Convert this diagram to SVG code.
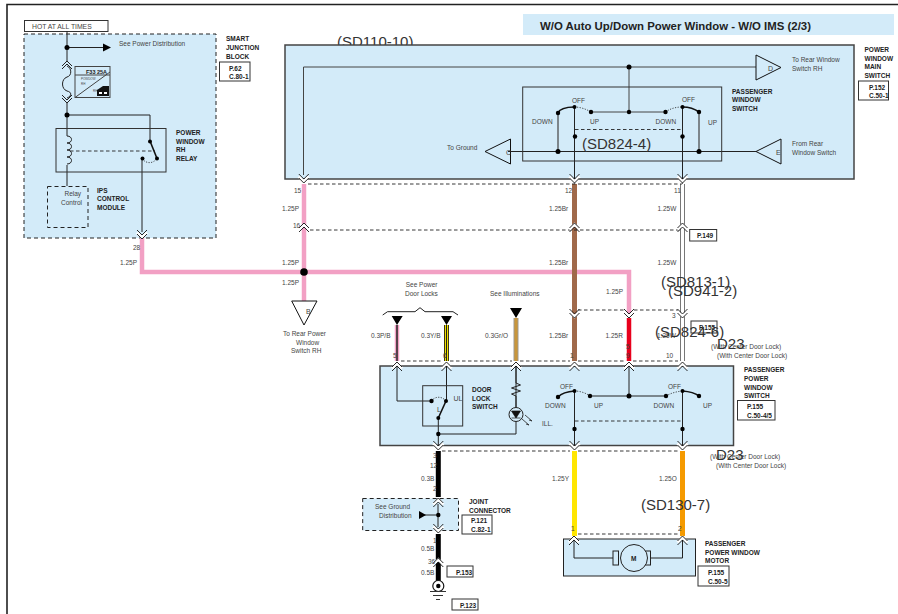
<svg xmlns="http://www.w3.org/2000/svg" width="898" height="614" viewBox="0 0 898 614">
<style>
text{font-family:"Liberation Sans",Arial,sans-serif;font-size:6.5px;fill:#444}
.b{font-weight:bold;fill:#222}
.big{font-size:15px;fill:#333}
.panel{fill:#d3ebf9;stroke:#444;stroke-width:1.5}
.dash{fill:#d3ebf9;stroke:#222;stroke-width:1;stroke-dasharray:4 3}
.box{fill:none;stroke:#333;stroke-width:1}
.ref{fill:#fff;stroke:#333;stroke-width:1}
.ln{fill:none;stroke:#222;stroke-width:1}
.thick{fill:none;stroke:#111;stroke-width:1.6}
.dl{fill:none;stroke:#222;stroke-width:.9;stroke-dasharray:3.5 2.5}
.dt{fill:none;stroke:#222;stroke-width:.8;stroke-dasharray:1.2 1.4}
.tri{fill:#d3ebf9;stroke:#111;stroke-width:1}
.n{fill:#000}
</style>
<defs>
<g id="dn"><path d="M-5,-3.5 L0,1.5 L5,-3.5" fill="none" stroke="#fff" stroke-width="3"/><path d="M-5,-6 L0,-1 L5,-6 M-5,-2 L0,3 L5,-2" fill="none" stroke="#111" stroke-width=".9"/></g>
<g id="up"><path d="M-5,3.5 L0,-1.5 L5,3.5" fill="none" stroke="#fff" stroke-width="3"/><path d="M-5,6 L0,1 L5,6 M-5,2 L0,-3 L5,2" fill="none" stroke="#111" stroke-width=".9"/></g>
</defs>
<rect width="898" height="614" fill="#fff"/>
<path d="M7,614 V4.500 H898" fill="none" stroke="#222" stroke-width="1.600"/>
<g id="title"><rect x="523" y="14" width="371" height="21" fill="#d3ebf9"/><text x="540" y="30" class="b" style="font-size:11.400px">W/O Auto Up/Down Power Window - W/O IMS (2/3)</text></g>

<text x="337" y="47" class="big">(SD110-10)</text>

<g id="smart-junction-block">
<rect x="24" y="34" width="192" height="204" class="dash"/>
<rect x="24.500" y="20.500" width="83.500" height="11" class="ref"/>
<text x="32" y="29" style="font-size:6.800px">HOT AT ALL TIMES</text>
<text x="119" y="46">See Power Distribution</text>
<path d="M67,31 V62 M67,47.500 H105 M67,103 V136 M67,165 V186 M67,115 H150 V141 M142,158.500 V232" class="ln"/>
<path d="M103,43.500 L111,47.500 L103,51.500 Z" class="n"/>
<circle cx="67" cy="47.500" r="2.500" class="n"/>
<path d="M62,66 L67,61 L72,66 M62,69 L67,64 L72,69 M62,95 L67,100 L72,95 M62,98 L67,103 L72,98" class="ln"/>
<path d="M67,66 c5,2 5,10 0,11 c-6,2 -6,12 0,14 c5,1 5,5 0,7" class="ln"/>
<g id="fuse"><rect x="75" y="66.500" width="35" height="31" fill="#d3ebf9" stroke="#444"/><path d="M75,75 H110 M75,97.500 L110,72" stroke="#444" fill="none"/>
<text x="86" y="74" class="b" style="font-size:5.500px">F33 25A</text><text x="81" y="80" style="font-size:3px">POWDOW</text><text x="81" y="85" style="font-size:3px">RH</text><text x="93" y="92" style="font-size:3px">RH</text><path d="M97,96 V90 L103,86 H109 V96 Z" fill="#111"/><rect x="99" y="92" width="3" height="2" fill="#fff"/><rect x="104" y="92" width="3" height="2" fill="#fff"/></g>
<circle cx="67" cy="115" r="2.500" class="n"/>
<g id="power-window-rh-relay"><rect x="56" y="128.500" width="110" height="43.500" class="box"/>
<path d="M67,136 c6,0 6,7 0,7 c6,0 6,7 0,7 c6,0 6,7 0,7 c6,0 6,7 0,7" class="ln"/>
<path d="M70,151 H155" class="dl"/>
<path d="M150,141 L157,158.500" class="thick"/><path d="M142,158.500 C146,164 153,164 157,158.500" class="dt"/>
<circle cx="150" cy="141.500" r="2" class="n"/><circle cx="157" cy="158.500" r="2" class="n"/><circle cx="142.500" cy="158.500" r="2" class="n"/></g>
<g id="ips-control-module"><rect x="47.500" y="186.500" width="40.500" height="41" fill="#d3ebf9" stroke="#222" stroke-dasharray="4 3"/><text x="64.500" y="196">Relay</text><text x="61" y="205">Control</text></g>
<text x="176" y="135" class="b">POWER</text><text x="176" y="144" class="b">WINDOW</text><text x="176" y="152" class="b">RH</text><text x="176" y="161" class="b">RELAY</text>
<text x="97" y="193" class="b">IPS</text><text x="97" y="201" class="b">CONTROL</text><text x="97" y="210" class="b">MODULE</text>
<text x="226" y="41" class="b">SMART</text><text x="226" y="50" class="b">JUNCTION</text><text x="226" y="59" class="b">BLOCK</text>
<rect x="219.500" y="62" width="30.500" height="19" class="ref"/><text x="229" y="71" class="b">P.62</text><text x="229" y="79" class="b">C.80-1</text>
</g>

<g id="power-window-main-switch">
<rect x="285" y="45" width="569" height="134" class="panel"/>
<path d="M303.500,175 V67 H756 M629,67 V112 M591,112 H665.500" fill="none" stroke="#444" stroke-width="1"/>
<circle cx="629" cy="67" r="2.500" class="n"/><circle cx="629" cy="112" r="2.200" class="n"/>
<path d="M756,55 L781,67.500 L756,80 Z" class="tri"/><text x="768" y="71" style="font-size:7px">D</text>
<path d="M510.500,139 L485,151.500 L510.500,164 Z" class="tri"/><text x="506" y="155" style="font-size:7px">C</text>
<path d="M781,139 L756,151.500 L781,164 Z" class="tri"/><text x="776" y="155" style="font-size:7px">E</text>
<path d="M508,151.500 H756" class="ln"/>
<g id="passenger-window-switch"><rect x="522.700" y="87" width="199" height="74" class="box"/>
<path d="M558,113 V151.500 M699,112 V151.500" stroke="#444" fill="none" stroke-width="1.200"/>
<path d="M574.500,107 V175 M682.500,107 V175" class="ln"/>
<path d="M558,113 C560,108 568,107 574.500,107 M682.500,107 C689,107 695,109 699,112" class="thick"/>
<path d="M574.500,107 C580,107 586,109 591,112 M665.500,112 C671,108 677,107 682.500,107" class="dt"/>
<path d="M575,129.500 H682" class="dl"/>
<circle cx="574.500" cy="107" r="2" class="n"/><circle cx="682.500" cy="107" r="2" class="n"/><circle cx="558" cy="113" r="2.200" class="n"/><circle cx="591" cy="112" r="2.200" class="n"/><circle cx="665.500" cy="112" r="2.200" class="n"/><circle cx="699" cy="112" r="2.200" class="n"/>
<circle cx="575" cy="136.500" r="2.200" class="n"/><circle cx="682.500" cy="136.500" r="2.200" class="n"/><circle cx="558" cy="151.500" r="2.500" class="n"/><circle cx="699" cy="151.500" r="2.500" class="n"/>
<text x="572" y="103">OFF</text><text x="682" y="102">OFF</text><text x="532" y="124">DOWN</text><text x="590" y="124">UP</text><text x="655.500" y="124">DOWN</text><text x="708" y="125">UP</text></g>
<text x="792" y="62">To Rear Window</text><text x="792" y="71">Switch RH</text><text x="792" y="146">From Rear</text><text x="792" y="155">Window Switch</text><text x="447" y="150">To Ground</text>
<text x="732" y="94" class="b">PASSENGER</text><text x="732" y="102" class="b">WINDOW</text><text x="732" y="111" class="b">SWITCH</text>
<text x="864.500" y="52" class="b">POWER</text><text x="864.500" y="61" class="b">WINDOW</text><text x="864.500" y="69" class="b">MAIN</text><text x="864.500" y="78" class="b">SWITCH</text>
<rect x="858.500" y="81" width="30" height="19" class="ref"/><text x="869" y="90" class="b">P.152</text><text x="869" y="98" class="b">C.50-1</text>
</g>

<g id="passenger-power-window-switch">
<rect x="380" y="366" width="353.500" height="79.500" class="panel"/>
<path d="M397,366 V401 H431.500 M446.500,366 V401 M438.300,418 V445 M438.300,434 H516 V366" class="ln"/>
<path d="M574.500,391 V445 M682.500,391 V445 M629,366 V396 M590,396 H666" class="ln"/>
<g id="door-lock-switch"><rect x="422.700" y="385.700" width="40" height="40.300" class="box"/>
<path d="M446,401 L438.300,418" class="thick"/><path d="M431.500,401 C435,396 442,396 446,401" class="dt"/>
<circle cx="431.500" cy="401" r="2.200" class="n"/><circle cx="446" cy="401" r="2" class="n"/><circle cx="438.300" cy="418" r="2" class="n"/><circle cx="438.300" cy="434" r="2.200" class="n"/>
<text x="437" y="412" style="font-size:7px">L</text><text x="453.500" y="400.500" style="font-size:7px">UL</text></g>
<path d="M516,366 V383 L520.500,385 L511.500,388 L520.500,391 L511.500,394 L516,396 V407" class="ln"/>
<circle cx="516" cy="414.500" r="7" fill="#d3ebf9" stroke="#222"/>
<path d="M511.500,411 H520.500 L516,418 Z M511.500,418 H520.500" fill="#111" stroke="#111" stroke-width=".7"/>
<path d="M525,415 L532,421 M522,419 L529,425 M532,421 L529,420 M529,425 L526,424" fill="none" stroke="#222" stroke-width=".8"/>
<text x="542" y="425.500">ILL.</text>
<text x="472" y="392" class="b">DOOR</text><text x="472" y="401" class="b">LOCK</text><text x="472" y="409" class="b">SWITCH</text>
<path d="M558,397 C562,393 568,391.500 574.500,391 M682.500,391 C689,391.500 695,393 699,396" class="thick"/>
<path d="M574.500,391 C580,391 586,393 590,396 M666,396 C671,393 677,391.500 682.500,391" class="dt"/>
<path d="M575,421 H682" class="dl"/>
<circle cx="574.500" cy="391" r="2" class="n"/><circle cx="682.500" cy="391" r="2" class="n"/><circle cx="558" cy="397" r="2.200" class="n"/><circle cx="590" cy="396" r="2.200" class="n"/><circle cx="666" cy="396" r="2.200" class="n"/><circle cx="699" cy="396" r="2.200" class="n"/><circle cx="629" cy="396" r="2.500" class="n"/><circle cx="574.500" cy="429" r="2.200" class="n"/><circle cx="682.500" cy="429" r="2.200" class="n"/>
<text x="560" y="388.500">OFF</text><text x="668" y="388.500">OFF</text><text x="545" y="408">DOWN</text><text x="594" y="408">UP</text><text x="653.500" y="408">DOWN</text><text x="703" y="408">UP</text>
<text x="744" y="372" class="b">PASSENGER</text><text x="744" y="381" class="b">POWER</text><text x="744" y="390" class="b">WINDOW</text><text x="744" y="398" class="b">SWITCH</text>
<rect x="737.500" y="400.500" width="37.500" height="19.500" class="ref"/><text x="747" y="409" class="b">P.155</text><text x="747" y="418" class="b">C.50-4/5</text>
</g>

<g id="joint-connector">
<rect x="362.700" y="498.500" width="95.800" height="32" class="dash"/>
<path d="M424,515 H438 M438,504 V527" class="ln"/>
<path d="M419,511 L426,515 L419,519 Z" class="n"/><circle cx="438.300" cy="515" r="2.200" class="n"/>
<text x="375" y="509">See Ground</text><text x="379" y="518">Distribution</text>
<text x="469" y="504" class="b">JOINT</text><text x="469" y="513" class="b">CONNECTOR</text>
<rect x="462" y="515" width="30" height="19" class="ref"/><text x="471" y="523" class="b">P.121</text><text x="471" y="532" class="b">C.82-1</text>
</g>

<g id="power-window-motor">
<rect x="563.500" y="539" width="132" height="37" fill="#d3ebf9" stroke="#222"/>
<path d="M574,540 V558 H613 M650,558 H682.500 V540" class="ln"/>
<rect x="613" y="551" width="5.500" height="14" fill="#d3ebf9" stroke="#222"/><rect x="645" y="551" width="5.500" height="14" fill="#d3ebf9" stroke="#222"/>
<circle cx="634" cy="558" r="13.500" fill="#d3ebf9" stroke="#222"/>
<text x="631" y="561" class="b">M</text>
<text x="705" y="546" class="b">PASSENGER</text><text x="705" y="555" class="b">POWER WINDOW</text><text x="705" y="563" class="b">MOTOR</text>
<rect x="698" y="566" width="31" height="20" class="ref"/><text x="708" y="575" class="b">P.155</text><text x="708" y="584" class="b">C.50-5</text>
</g>

<g id="connectors">
<g fill="none">
<path d="M304,184 V301" stroke="#f2a0c4" stroke-width="4.500"/>
<path d="M142,238 V272 H629 V314" stroke="#f2a0c4" stroke-width="4.500"/>
<path d="M574.500,184 V361" stroke="#a0694a" stroke-width="5"/>
<path d="M682.500,184 V361" stroke="#555" stroke-width="5"/><path d="M682.500,184 V361" stroke="#fff" stroke-width="3.400"/>
<path d="M629,318 V361" stroke="#e8001c" stroke-width="4.500"/>
<path d="M397,325 V361" stroke="#f2a0c4" stroke-width="4.500"/><path d="M397,325 V361" stroke="#222" stroke-width="1.500"/>
<path d="M446.500,325 V361" stroke="#111" stroke-width="5"/><path d="M446.500,325 V361" stroke="#f0e000" stroke-width="3.400"/><path d="M446.500,325 V361" stroke="#222" stroke-width="1"/>
<path d="M516,318 V361" stroke="#999" stroke-width="5"/><path d="M516,318 V361" stroke="#c8963c" stroke-width="3.200"/>
<path d="M574.500,451 V536" stroke="#ffe600" stroke-width="5"/>
<path d="M682.500,451 V536" stroke="#f59a00" stroke-width="5"/>
<path d="M438.300,451 V497 M438.300,534 V581" stroke="#000" stroke-width="5"/>
</g>
<path d="M574.500,174 V184 M682.500,174 V184" class="ln"/>
<path d="M308,184 H682 M310,230 H682 M634,310 H678 M578,310 H624 M401,361 H443 M450,361 H512 M520,361 H570 M578,361 H625 M633,361 H678 M442,451 H570 M578,451 H678 M578,534 H678" class="dl"/>
<use href="#dn" x="303.800" y="180"/><use href="#dn" x="574.500" y="180"/><use href="#dn" x="682.500" y="180"/>
<use href="#up" x="304" y="226"/><use href="#up" x="574.500" y="226"/><use href="#up" x="682.500" y="226"/>
<use href="#dn" x="574.500" y="315"/><use href="#dn" x="629" y="315"/><use href="#dn" x="682.500" y="315"/>
<use href="#up" x="397" y="365"/><use href="#up" x="446.500" y="365"/><use href="#up" x="516" y="365"/><use href="#up" x="574.500" y="365"/><use href="#up" x="629" y="365"/><use href="#up" x="682.500" y="365"/>
<use href="#dn" x="438.300" y="447"/><use href="#dn" x="574.500" y="447"/><use href="#dn" x="682.500" y="447"/>
<use href="#dn" x="142" y="236"/>
<use href="#up" x="438.300" y="501"/><use href="#dn" x="438.300" y="530"/><use href="#up" x="438.300" y="561"/>
<use href="#up" x="574" y="539"/><use href="#up" x="682.500" y="539"/>
<circle cx="304" cy="272" r="3.800" class="n"/>
</g>

<g id="wire-ends">
<path d="M291.700,301 H317 L304,325 Z" fill="#fff" stroke="#111"/><text x="306" y="314" style="font-size:7px">B</text>
<path d="M382.700,315 L387.500,311.700 H415 L420,307.700 L425,311.700 H453 L458,315" class="ln"/>
<path d="M391.700,316 H402.700 L397,325 Z M441,316 H452 L446.500,325 Z M510,308 H522 L516,318 Z" class="n"/>
<g id="ground"><circle cx="438.300" cy="586" r="5.500" fill="#fff" stroke="#111" stroke-width="1.200"/><circle cx="438.300" cy="586" r="2.200" class="n"/><path d="M430,591.500 H446 M433,595.500 H443 M436,599.500 H440" fill="none" stroke="#333"/></g>
</g>

<g id="labels">
<text x="133" y="250">28</text><text x="120" y="265">1.25P</text>
<text x="294" y="193">15</text><text x="282" y="211">1.25P</text><text x="293" y="228">16</text><text x="282" y="265">1.25P</text><text x="282" y="285">1.25P</text>
<text x="283" y="336">To Rear Power</text><text x="296" y="345">Window</text><text x="291" y="353">Switch RH</text>
<text x="405.700" y="287">See Power</text><text x="405" y="296">Door Locks</text><text x="490" y="296">See Illuminations</text>
<text x="371" y="338">0.3P/B</text><text x="421" y="338">0.3Y/B</text><text x="485" y="338">0.3Gr/O</text>
<text x="393" y="358">5</text><text x="443" y="358">6</text>
<text x="565" y="193">12</text><text x="674" y="193">11</text>
<text x="549" y="211">1.25Br</text><text x="549" y="265">1.25Br</text><text x="549" y="338">1.25Br</text>
<text x="657.500" y="211">1.25W</text><text x="657.500" y="265">1.25W</text><text x="657" y="338">1.25W</text>
<text x="606" y="294">1.25P</text><text x="605.500" y="338">1.25R</text>
<text x="672" y="318">3</text><text x="626" y="349">5</text><text x="626" y="358">9</text><text x="570" y="358">1</text><text x="666" y="358">10</text>
<text x="430" y="468">12</text><text x="433" y="458">3</text><text x="421" y="481">0.3B</text><text x="433" y="491">2</text><text x="433" y="543">1</text><text x="421" y="551">0.5B</text><text x="428" y="564">36</text><text x="421" y="575">0.5B</text>
<text x="552" y="481">1.25Y</text><text x="659" y="481">1.25O</text><text x="571" y="531">1</text><text x="678" y="531">2</text>
<rect x="689.700" y="229.500" width="27" height="11.500" class="ref"/><text x="697" y="238" class="b">P.149</text>
<rect x="691" y="321" width="26" height="12" fill="none" stroke="#333"/><text x="699" y="330" class="b">P.155</text>
<rect x="447" y="566" width="26" height="11" class="ref"/><text x="456" y="574.500" class="b">P.153</text>
<rect x="452" y="599" width="26" height="11" class="ref"/><text x="460" y="607.500" class="b">P.123</text>
<text x="711" y="349">(With Center Door Lock)</text><text x="717" y="358">(With Center Door Lock)</text>
<text x="710" y="459">(With Center Door Lock)</text><text x="716" y="468">(With Center Door Lock)</text>
<text x="582" y="149" class="big">(SD824-4)</text>
<text x="661" y="287" class="big">(SD813-1)</text><text x="668" y="296" class="big">(SD941-2)</text><text x="655" y="337" class="big">(SD824-6)</text>
<text x="717" y="349" class="big">D23</text><text x="716" y="460" class="big">D23</text><text x="641" y="510" class="big">(SD130-7)</text>
</g>
</svg>
